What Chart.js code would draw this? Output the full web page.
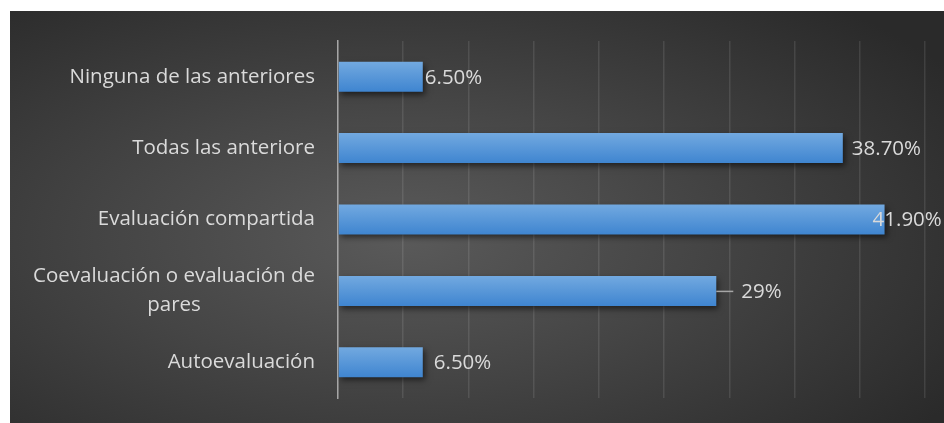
<!DOCTYPE html>
<html>
<head>
<meta charset="utf-8" />
<title>Evaluación</title>
<script src="https://cdn.jsdelivr.net/npm/chart.js@4.4.1/dist/chart.umd.min.js"></script>
<style>
    body { margin: 0; background: #fff; }
    #wrap {
        position: absolute; left: 10px; top: 11px; width: 934px; height: 412px;
        background: radial-gradient(ellipse 70% 75% at 42% 55%, #5a5a5a 0%, #454545 45%, #2a2a2a 100%);
    }
</style>
</head>
<body>
<div id="wrap"><canvas id="chart" width="934" height="412"></canvas></div>
<script>
    // data
    var categories = ['Ninguna de las anteriores', 'Todas las anteriore', 'Evaluación compartida',
        ['Coevaluación o evaluación de', 'pares'], 'Autoevaluación'];
    var values = [6.5, 38.7, 41.9, 29, 6.5];
    var valueLabels = ['6.50%', '38.70%', '41.90%', '29%', '6.50%'];
    var axisMax = 45;
    var axisStep = 5;

    // hand-moved label nudges (px from bar end), as in the original
    var labelNudge = [2, 9, -12, 25, 11];

    var textColor = '#dadada';
    var font = '20.5px "Open Sans"';

    var barFill = function(context) {
        var chart = context.chart;
        var ys = chart.scales && chart.scales.y;
        if (!ys || !chart.chartArea) return '#5b9bd5';
        var py = ys.getPixelForValue(context.dataIndex);
        if (!isFinite(py)) return '#5b9bd5';
        var g = chart.ctx.createLinearGradient(0, py - 15, 0, py + 15);
        g.addColorStop(0, '#72a9e0');
        g.addColorStop(1, '#3f85d0');
        return g;
    };

    var shadowPlugin = {
        id: 'shadow',
        beforeDatasetsDraw: function(chart) {
            var ctx = chart.ctx;
            ctx.save();
            ctx.shadowColor = 'rgba(0,0,0,0.55)';
            ctx.shadowBlur = 6;
            ctx.shadowOffsetX = 2;
            ctx.shadowOffsetY = 3;
        },
        afterDatasetsDraw: function(chart) {
            chart.ctx.restore();
        }
    };

    var labelsPlugin = {
        id: 'labels',
        afterDraw: function(chart) {
            var ctx = chart.ctx;
            var y = chart.scales.y;
            var x = chart.scales.x;
            ctx.save();
            ctx.font = font;
            ctx.fillStyle = textColor;
            ctx.textBaseline = 'middle';

            // category labels, right aligned, wrapped lines centred within block
            var right = y.right - 23;
            categories.forEach(function(c, i) {
                var py = y.getPixelForValue(i);
                var lines = Array.isArray(c) ? c : [c];
                var w = 0;
                lines.forEach(function(l) { w = Math.max(w, ctx.measureText(l).width); });
                ctx.textAlign = 'center';
                var lh = 29;
                var top = py - (lines.length - 1) * lh / 2;
                lines.forEach(function(l, k) {
                    ctx.fillText(l, right - w / 2, top + k * lh);
                });
            });

            // value labels
            ctx.textAlign = 'left';
            values.forEach(function(v, i) {
                var end = x.getPixelForValue(v);
                var py = y.getPixelForValue(i);
                var tx = end + labelNudge[i];
                if (labelNudge[i] > 20) {
                    ctx.strokeStyle = '#a6a6a6';
                    ctx.lineWidth = 1.5;
                    ctx.beginPath();
                    ctx.moveTo(end, py + 0.5);
                    ctx.lineTo(end + 17, py + 0.5);
                    ctx.stroke();
                }
                ctx.fillText(valueLabels[i], tx, py + 1);
            });
            ctx.restore();
        }
    };

    new Chart(document.getElementById('chart'), {
        type: 'bar',
        data: {
            labels: categories,
            datasets: [{
                data: values,
                backgroundColor: barFill,
                borderWidth: 0,
                categoryPercentage: 1,
                barPercentage: 0.42
            }]
        },
        options: {
            indexAxis: 'y',
            responsive: false,
            animation: false,
            layout: { padding: { top: 30, bottom: 25, right: 19, left: 0 } },
            plugins: { legend: { display: false }, tooltip: { enabled: false } },
            scales: {
                x: {
                    min: 0, max: axisMax,
                    ticks: { display: false, stepSize: axisStep },
                    grid: { color: 'rgba(255,255,255,0.1)', lineWidth: 1.5, drawTicks: false },
                    border: { display: false },
                    afterFit: function(s) { s.height = 0; }
                },
                y: {
                    ticks: { display: false },
                    grid: { display: false, drawTicks: false },
                    border: { display: true, color: '#a6a6a6', width: 1.5 },
                    afterFit: function(s) { s.width = 328; }
                }
            }
        },
        plugins: [shadowPlugin, labelsPlugin]
    });
</script>
</body>
</html>
